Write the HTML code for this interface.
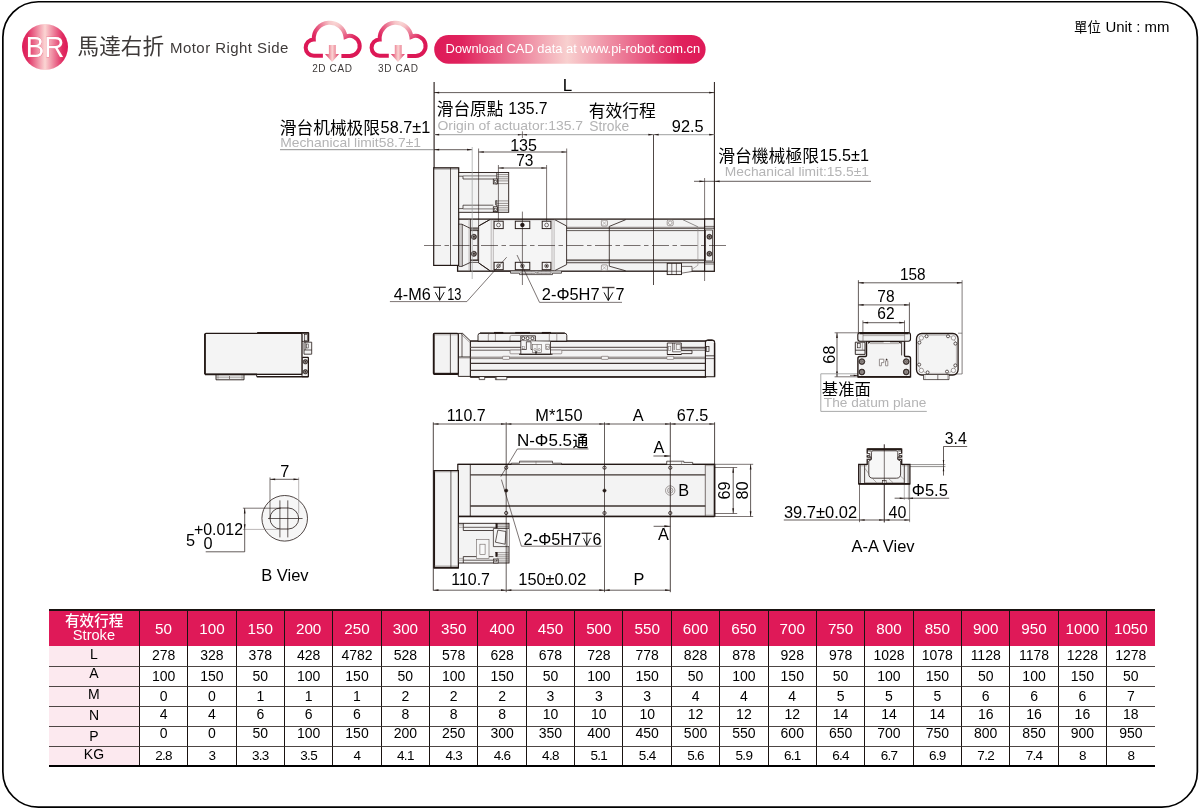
<!DOCTYPE html>
<html lang="zh"><head><meta charset="utf-8"><title>BR Motor Right Side</title>
<style>
html,body{margin:0;padding:0;background:#fff;}
body{width:1200px;height:809px;position:relative;overflow:hidden;font-family:"Liberation Sans",sans-serif;}
.frame{position:absolute;left:2px;top:1px;width:1194.6px;height:805px;border:1.3px solid #000;border-radius:37px;box-sizing:content-box;}
svg.art{position:absolute;left:0;top:0;width:1200px;height:809px;will-change:transform;}
svg.art text{font-family:"Liberation Sans",sans-serif;}
svg.art text.cjk{font-family:"Liberation Sans","Noto Sans CJK TC","Noto Sans CJK SC",sans-serif;}
svg.art text.cjksc{font-family:"Liberation Sans","Noto Sans CJK SC","Noto Sans CJK TC",sans-serif;}
table.spec{will-change:transform;position:absolute;left:48.6px;top:609px;width:1105.6px;border-collapse:separate;border-spacing:0;table-layout:fixed;font-family:"Liberation Sans",sans-serif;border-top:2px solid #1a1311;border-bottom:2px solid #000;}
table.spec th{background:#df1958;color:#fff;font-weight:normal;font-size:15.2px;height:35px;padding:1px 0 0 0;border-left:1px solid #1a1311;text-align:center;vertical-align:top;line-height:34px;width:48.36px;box-sizing:border-box;}
table.spec th.first{width:89.9px;border-left:none;padding:0;line-height:13px;font-size:14.6px;}
table.spec th.first svg{display:block;margin:2px auto 0 auto;}
table.spec th.first span{display:block;margin-top:1.2px;}
table.spec td{height:20px;padding:0;font-size:14px;color:#000;text-align:center;border-left:1px solid #1a1311;border-top:1px solid #4d4644;box-sizing:border-box;line-height:19px;vertical-align:top;}
table.spec td.first{background:#fce9ef;border-left:none;font-size:14px;}
table.spec tbody tr:nth-child(1) td{border-top:none;line-height:19.5px;}
table.spec tbody tr:nth-child(1) td.first{line-height:17.7px;}
table.spec tbody tr:nth-child(2) td{line-height:19.1px;}
table.spec tbody tr:nth-child(2) td.first{line-height:12.9px;}
table.spec tbody tr:nth-child(3) td{line-height:19.1px;}
table.spec tbody tr:nth-child(3) td.first{line-height:15.9px;}
table.spec tbody tr:nth-child(4) td{line-height:15.3px;}
table.spec tbody tr:nth-child(4) td.first{line-height:16.9px;}
table.spec tbody tr:nth-child(5) td{line-height:13.9px;}
table.spec tbody tr:nth-child(5) td.first{line-height:18.7px;}
table.spec tbody tr:nth-child(6) td{height:18px;line-height:17.7px;font-size:13.5px;letter-spacing:-0.7px;}
table.spec tbody tr:nth-child(6) td.first{line-height:15.7px;font-size:14px;letter-spacing:0;}
</style></head>
<body>
<svg class="art" viewBox="0 0 1200 809" width="1200" height="809">
<defs>
<linearGradient id="gBR" x1="0" x2="1" y1="0" y2="0"><stop offset="0" stop-color="#de1a58"/><stop offset="0.12" stop-color="#e02c62"/><stop offset="0.5" stop-color="#fbd5d3"/><stop offset="0.88" stop-color="#e02c62"/><stop offset="1" stop-color="#de1a58"/></linearGradient>
<linearGradient id="gPill" x1="0" x2="1" y1="0" y2="0"><stop offset="0" stop-color="#de1a58"/><stop offset="0.1" stop-color="#e0225d"/><stop offset="0.49" stop-color="#f8d0cf"/><stop offset="0.9" stop-color="#e0225d"/><stop offset="1" stop-color="#de1a58"/></linearGradient>
<radialGradient id="gCloud" gradientUnits="userSpaceOnUse" cx="335" cy="21" r="31"><stop offset="0" stop-color="#fadad8"/><stop offset="0.2" stop-color="#f6c4c7"/><stop offset="0.5" stop-color="#ea7391"/><stop offset="0.78" stop-color="#e02c64"/><stop offset="1" stop-color="#dc1856"/></radialGradient>
<linearGradient id="gArrow" gradientUnits="userSpaceOnUse" x1="325" y1="0" x2="339" y2="0"><stop offset="0" stop-color="#dc2a5f"/><stop offset="0.3" stop-color="#ee8f9f"/><stop offset="0.52" stop-color="#fad4d3"/><stop offset="0.75" stop-color="#ee8f9f"/><stop offset="1" stop-color="#dc2a5f"/></linearGradient>
</defs>
<rect x="2.85" y="1.75" width="1194.5" height="805.4" rx="35.5" ry="35.5" fill="none" stroke="#000" stroke-width="1.7"/>
<g id="header">
<circle cx="45" cy="47" r="23" fill="url(#gBR)"/>
<text x="45" y="57.1" font-size="29.8" fill="#fff" text-anchor="middle" textLength="38.6" lengthAdjust="spacingAndGlyphs" stroke="#e8556f" stroke-width="0.5" paint-order="stroke" style="paint-order:stroke">BR</text>
<text class="cjk" x="77.6" y="54" font-size="21.6" fill="#3e3a39" textLength="86.4" lengthAdjust="spacingAndGlyphs">馬達右折</text>
<text x="170" y="52.6" font-size="15" fill="#3e3a39" letter-spacing="0.45">Motor Right Side</text>
<g transform="translate(0,0)">
<path d="M322.9 55.8 H313.96 A8.2 8.2 0 0 1 313.78 39.4 A15.9 15.9 0 0 1 345.46 36.84 A10 10 0 1 1 349.7 55.9 H341.4" fill="none" stroke="url(#gCloud)" stroke-width="4" stroke-linecap="butt" stroke-linejoin="miter"/>
<path d="M328.9 45 H335.8 V54 H339 L332.1 61.9 L325 54 H328.9 Z" fill="url(#gArrow)"/>
<text x="332.4" y="71.8" font-size="10" fill="#3e3a39" text-anchor="middle" letter-spacing="0.62">2D CAD</text>
</g>
<g transform="translate(65.9,0)">
<path d="M322.9 55.8 H313.96 A8.2 8.2 0 0 1 313.78 39.4 A15.9 15.9 0 0 1 345.46 36.84 A10 10 0 1 1 349.7 55.9 H341.4" fill="none" stroke="url(#gCloud)" stroke-width="4" stroke-linecap="butt" stroke-linejoin="miter"/>
<path d="M328.9 45 H335.8 V54 H339 L332.1 61.9 L325 54 H328.9 Z" fill="url(#gArrow)"/>
<text x="332.4" y="71.8" font-size="10" fill="#3e3a39" text-anchor="middle" letter-spacing="0.62">3D CAD</text>
</g>
<rect x="434.2" y="35" width="271.4" height="28.8" rx="14.4" fill="url(#gPill)"/>
<text x="445.6" y="53.4" font-size="12" fill="#fff" textLength="254.5" lengthAdjust="spacingAndGlyphs">Download CAD data at www.pi-robot.com.cn</text>
<text class="cjk" x="1074" y="32.3" font-size="13.3" fill="#000" textLength="26.8" lengthAdjust="spacingAndGlyphs">單位</text>
<text x="1105.4" y="31.8" font-size="14.3" fill="#000" textLength="64" lengthAdjust="spacingAndGlyphs">Unit : mm</text>
</g>
<g id="top_view">
<rect x="457.6" y="219.1" width="256.7" height="52.1" fill="#f3f3f3" stroke="#231815" stroke-width="1.3"/>
<rect x="433.7" y="167.8" width="25" height="97.6" fill="#f3f3f3" stroke="#231815" stroke-width="1.2"/>
<line x1="434" y1="169" x2="458.7" y2="169" stroke="#231815" stroke-width="0.5" />
<line x1="450.5" y1="167.8" x2="450.5" y2="265.4" stroke="#231815" stroke-width="0.7" />
<rect x="458.7" y="172.5" width="50" height="39.8" fill="#f3f3f3" stroke="#231815" stroke-width="0.9"/>
<path d="M458.7 176.2 H463 V179 H493.3" fill="none" stroke="#231815" stroke-width="0.7" />
<path d="M458.7 208.6 H463 V205.2 H493.3" fill="none" stroke="#231815" stroke-width="0.7" />
<line x1="463" y1="175.9" x2="496.8" y2="175.9" stroke="#4a4443" stroke-width="0.7" />
<line x1="463" y1="208.9" x2="496.8" y2="208.9" stroke="#4a4443" stroke-width="0.7" />
<line x1="496.8" y1="172.5" x2="496.8" y2="184" stroke="#231815" stroke-width="0.8" />
<line x1="496.8" y1="200.6" x2="496.8" y2="212.3" stroke="#231815" stroke-width="0.8" />
<line x1="496.8" y1="174.6" x2="508.7" y2="174.6" stroke="#5a504d" stroke-width="0.6" />
<line x1="496.8" y1="176.7" x2="508.7" y2="176.7" stroke="#5a504d" stroke-width="0.6" />
<line x1="496.8" y1="178.8" x2="508.7" y2="178.8" stroke="#5a504d" stroke-width="0.6" />
<line x1="496.8" y1="180.9" x2="508.7" y2="180.9" stroke="#5a504d" stroke-width="0.6" />
<line x1="496.8" y1="183.6" x2="508.7" y2="183.6" stroke="#5a504d" stroke-width="0.6" />
<line x1="496.8" y1="200.9" x2="508.7" y2="200.9" stroke="#5a504d" stroke-width="0.6" />
<line x1="496.8" y1="203.4" x2="508.7" y2="203.4" stroke="#5a504d" stroke-width="0.6" />
<line x1="496.8" y1="205.6" x2="508.7" y2="205.6" stroke="#5a504d" stroke-width="0.6" />
<line x1="496.8" y1="207.8" x2="508.7" y2="207.8" stroke="#5a504d" stroke-width="0.6" />
<line x1="496.8" y1="210" x2="508.7" y2="210" stroke="#5a504d" stroke-width="0.6" />
<rect x="493.3" y="179" width="4.3" height="4.9" fill="#f3f3f3" stroke="#231815" stroke-width="0.8"/>
<rect x="494.6" y="180.5" width="1.8" height="2" fill="none" stroke="#231815" stroke-width="0.5"/>
<rect x="493.3" y="206.8" width="4.3" height="4.8" fill="#f3f3f3" stroke="#231815" stroke-width="0.8"/>
<rect x="494.6" y="208.2" width="1.8" height="2" fill="none" stroke="#231815" stroke-width="0.5"/>
<path d="M496.8 184 L495.6 184 M496.8 200.6 H495.6 V205.2" fill="none" stroke="#231815" stroke-width="0.7" />
<line x1="470.4" y1="219.1" x2="470.4" y2="271.2" stroke="#231815" stroke-width="0.8" />
<line x1="469" y1="219.1" x2="469" y2="271.2" stroke="#8c8584" stroke-width="0.5" />
<path d="M458.7 224.2 H462.2 V266.4 H458.7 M462.2 224.4 L470.4 228.4 M462.2 266.2 L470.4 262.4" fill="none" stroke="#231815" stroke-width="0.8" />
<line x1="460.2" y1="224.2" x2="460.2" y2="266.4" stroke="#8c8584" stroke-width="0.5" />
<rect x="470.4" y="229.9" width="7.5" height="30.4" fill="#f3f3f3" stroke="#231815" stroke-width="0.8"/>
<circle cx="473.9" cy="236.8" r="2.6" fill="#3a302c" stroke="#231815" stroke-width="0.6"/><circle cx="473.9" cy="236.8" r="1.43" fill="none" stroke="#cfcaca" stroke-width="0.5"/>
<circle cx="473.9" cy="253.8" r="2.6" fill="#3a302c" stroke="#231815" stroke-width="0.6"/><circle cx="473.9" cy="253.8" r="1.43" fill="none" stroke="#cfcaca" stroke-width="0.5"/>
<line x1="470.4" y1="228.2" x2="704.6" y2="228.2" stroke="#3e3431" stroke-width="1.2" />
<line x1="470.4" y1="230.6" x2="704.6" y2="230.6" stroke="#231815" stroke-width="0.7" />
<line x1="470.4" y1="260.1" x2="704.6" y2="260.1" stroke="#3e3431" stroke-width="1.2" />
<line x1="470.4" y1="262.4" x2="704.6" y2="262.4" stroke="#231815" stroke-width="0.7" />
<line x1="566.5" y1="227" x2="704.6" y2="227" stroke="#9a9392" stroke-width="0.5" />
<line x1="566.5" y1="263.4" x2="704.6" y2="263.4" stroke="#9a9392" stroke-width="0.5" />
<path d="M489.9 219.6 L478.6 226 V262.9 L489.9 270.7 H554.6 L566.6 264.6 V226 L554.6 219.6 Z" fill="#f5f5f5" stroke="#231815" stroke-width="0.85" />
<path d="M478.6 226 L489.9 219.6 M478.6 262.9 L489.9 270.7" fill="none" stroke="#231815" stroke-width="0.9" />
<line x1="491.2" y1="219.8" x2="491.2" y2="270.6" stroke="#8c8584" stroke-width="0.55" />
<line x1="493.3" y1="219.8" x2="493.3" y2="270.6" stroke="#8c8584" stroke-width="0.55" />
<line x1="552" y1="219.8" x2="552" y2="270.6" stroke="#8c8584" stroke-width="0.55" />
<line x1="554.1" y1="219.8" x2="554.1" y2="270.6" stroke="#8c8584" stroke-width="0.55" />
<rect x="494.1" y="221.2" width="9.1" height="7.4" fill="#f7f7f7" stroke="#231815" stroke-width="0.95"/>
<rect x="494.1" y="262.3" width="9.1" height="7.4" fill="#f7f7f7" stroke="#231815" stroke-width="0.95"/>
<rect x="515.3" y="221.2" width="14.5" height="7.4" fill="#f7f7f7" stroke="#231815" stroke-width="0.95"/>
<rect x="515.3" y="262.3" width="14.5" height="7.4" fill="#f7f7f7" stroke="#231815" stroke-width="0.95"/>
<rect x="542.2" y="221.2" width="8.7" height="7.4" fill="#f7f7f7" stroke="#231815" stroke-width="0.95"/>
<rect x="542.2" y="262.3" width="8.7" height="7.4" fill="#f7f7f7" stroke="#231815" stroke-width="0.95"/>
<circle cx="498.5" cy="225" r="1.9" fill="none" stroke="#231815" stroke-width="0.6"/>
<circle cx="546.6" cy="225" r="1.9" fill="none" stroke="#231815" stroke-width="0.6"/>
<circle cx="522.4" cy="225" r="1.9" fill="#231815" stroke="#231815" stroke-width="0.6"/>
<circle cx="498.5" cy="265.9" r="1.9" fill="none" stroke="#231815" stroke-width="0.6"/>
<circle cx="498.5" cy="265.9" r="0.9" fill="none" stroke="#231815" stroke-width="0.5"/>
<circle cx="522.4" cy="265.9" r="1.9" fill="none" stroke="#231815" stroke-width="0.6"/>
<circle cx="522.4" cy="265.9" r="0.9" fill="#231815" stroke="#231815" stroke-width="0.4"/>
<circle cx="546.6" cy="265.9" r="1.9" fill="none" stroke="#231815" stroke-width="0.6"/>
<circle cx="546.6" cy="265.9" r="0.9" fill="#231815" stroke="#231815" stroke-width="0.4"/>
<path d="M510.5 271.2 V273.2 H519.5 V274.6 H552.5 V273.2 H561.5 V271.2" fill="#dcdcdc" stroke="#231815" stroke-width="0.7" />
<line x1="522.5" y1="271.8" x2="522.5" y2="274" stroke="#231815" stroke-width="0.5" />
<line x1="527" y1="271.8" x2="527" y2="274" stroke="#231815" stroke-width="0.5" />
<line x1="531.5" y1="271.8" x2="531.5" y2="274" stroke="#231815" stroke-width="0.5" />
<line x1="537" y1="271.8" x2="537" y2="274" stroke="#231815" stroke-width="0.5" />
<line x1="541.5" y1="271.8" x2="541.5" y2="274" stroke="#231815" stroke-width="0.5" />
<line x1="546" y1="271.8" x2="546" y2="274" stroke="#231815" stroke-width="0.5" />
<line x1="550" y1="271.8" x2="550" y2="274" stroke="#231815" stroke-width="0.5" />
<rect x="521" y="272" width="14.5" height="1.8" fill="#fff" stroke="#231815" stroke-width="0.4"/>
<rect x="538" y="272" width="13" height="1.8" fill="#fff" stroke="#231815" stroke-width="0.4"/>
<path d="M625.7 219.7 L609.3 226.4 V266.2 L625.7 270.8" fill="none" stroke="#231815" stroke-width="0.8" />
<path d="M683 219.8 L697.9 226.8" fill="none" stroke="#4a4443" stroke-width="0.6" />
<path d="M697.9 226.8 V265.2 L690 270.8" fill="none" stroke="#8c8584" stroke-width="0.6" />
<rect x="601.4" y="220.2" width="6" height="5.8" rx="1" fill="#f7f7f7" stroke="#6b625f" stroke-width="0.6"/>
<path d="M602.1999999999999 221.0 L606.6 225.2 M606.6 221.0 L602.1999999999999 225.2" fill="none" stroke="#8c8584" stroke-width="0.5" />
<rect x="601.4" y="264.9" width="6" height="5.8" rx="1" fill="#f7f7f7" stroke="#6b625f" stroke-width="0.6"/>
<path d="M602.1999999999999 265.7 L606.6 269.90000000000003 M606.6 265.7 L602.1999999999999 269.90000000000003" fill="none" stroke="#8c8584" stroke-width="0.5" />
<rect x="667.2" y="219.9" width="6" height="5.8" rx="1.5" fill="#f7f7f7" stroke="#6b625f" stroke-width="0.6"/>
<circle cx="670.2" cy="222.8" r="1.8" fill="none" stroke="#6b625f" stroke-width="0.5"/>
<rect x="704.6" y="219.1" width="9.7" height="52.1" fill="#f3f3f3" stroke="#231815" stroke-width="1.1"/>
<line x1="704.6" y1="226.4" x2="714.3" y2="226.4" stroke="#231815" stroke-width="0.6" />
<line x1="704.6" y1="228.2" x2="714.3" y2="228.2" stroke="#231815" stroke-width="0.8" />
<line x1="704.6" y1="262.2" x2="714.3" y2="262.2" stroke="#231815" stroke-width="0.8" />
<line x1="704.6" y1="264" x2="714.3" y2="264" stroke="#231815" stroke-width="0.6" />
<rect x="705.6" y="230" width="7" height="31" fill="#f3f3f3" stroke="#231815" stroke-width="0.7"/>
<circle cx="709.4" cy="236.8" r="2.5" fill="#3a302c" stroke="#231815" stroke-width="0.6"/><circle cx="709.4" cy="236.8" r="1.38" fill="none" stroke="#cfcaca" stroke-width="0.5"/>
<circle cx="709.4" cy="253.8" r="2.5" fill="#3a302c" stroke="#231815" stroke-width="0.6"/><circle cx="709.4" cy="253.8" r="1.38" fill="none" stroke="#cfcaca" stroke-width="0.5"/>
<path d="M681.5 266.4 H692 V271.5 L681.5 273.2" fill="#f7f7f7" stroke="#231815" stroke-width="0.6" />
<rect x="667.2" y="263.3" width="14.3" height="11.3" fill="#f4f4f4" stroke="#231815" stroke-width="0.9"/>
<line x1="671.8" y1="263.3" x2="671.8" y2="274.6" stroke="#231815" stroke-width="0.6" />
<line x1="676.4" y1="263.3" x2="676.4" y2="274.6" stroke="#231815" stroke-width="0.6" />
<line x1="667.2" y1="271.3" x2="681.5" y2="271.3" stroke="#231815" stroke-width="0.6" />
<line x1="424" y1="245.5" x2="729" y2="245.5" stroke="#231815" stroke-width="0.6" stroke-dasharray="17 3.5 4.5 3.5"/>
<line x1="522.4" y1="211.6" x2="522.4" y2="285" stroke="#231815" stroke-width="0.6" />
<line x1="434.1" y1="82" x2="434.1" y2="168" stroke="#231815" stroke-width="1.1" />
<line x1="714.4" y1="82" x2="714.4" y2="219" stroke="#231815" stroke-width="1.0" />
<line x1="434" y1="92.6" x2="714.4" y2="92.6" stroke="#231815" stroke-width="0.7" /><path d="M434 92.6 L439.2 91.75 L439.2 93.45Z" fill="#231815"/><path d="M714.4 92.6 L709.2 91.75 L709.2 93.45Z" fill="#231815"/>
<line x1="434" y1="134.7" x2="714.4" y2="134.7" stroke="#9fa0a0" stroke-width="1.0" />
<path d="M434 134.7 L439.2 133.85 L439.2 135.55Z" fill="#231815"/>
<path d="M522.4 134.7 L517.9 133.95 L517.9 135.45Z" fill="#231815"/>
<path d="M522.4 134.7 L526.9 133.95 L526.9 135.45Z" fill="#231815"/>
<line x1="522.4" y1="131.3" x2="522.4" y2="138" stroke="#231815" stroke-width="0.6" />
<path d="M653.5 134.7 L648.3 133.85 L648.3 135.55Z" fill="#231815"/>
<path d="M653.5 134.7 L658.7 133.85 L658.7 135.55Z" fill="#231815"/>
<path d="M714.4 134.7 L709.2 133.85 L709.2 135.55Z" fill="#231815"/>
<line x1="280" y1="149.7" x2="434" y2="149.7" stroke="#727171" stroke-width="0.8" />
<line x1="434" y1="149.7" x2="472.2" y2="149.7" stroke="#231815" stroke-width="0.7" />
<path d="M434 149.7 L439.2 148.85 L439.2 150.55Z" fill="#231815"/>
<path d="M472.2 149.7 L467 148.85 L467 150.55Z" fill="#231815"/>
<line x1="472.2" y1="147" x2="472.2" y2="279" stroke="#9fa0a0" stroke-width="0.7" />
<line x1="478.6" y1="148.5" x2="478.6" y2="226" stroke="#231815" stroke-width="0.6" />
<line x1="566.7" y1="148.5" x2="566.7" y2="226" stroke="#231815" stroke-width="0.6" />
<line x1="478.6" y1="152" x2="566.7" y2="152" stroke="#231815" stroke-width="0.7" /><path d="M478.6 152 L483.8 151.15 L483.8 152.85Z" fill="#231815"/><path d="M566.7 152 L561.5 151.15 L561.5 152.85Z" fill="#231815"/>
<line x1="498.4" y1="165" x2="498.4" y2="221" stroke="#231815" stroke-width="0.6" />
<line x1="546.6" y1="165" x2="546.6" y2="221" stroke="#231815" stroke-width="0.6" />
<line x1="498.4" y1="168" x2="546.6" y2="168" stroke="#231815" stroke-width="0.7" /><path d="M498.4 168 L503.6 167.15 L503.6 168.85Z" fill="#231815"/><path d="M546.6 168 L541.4 167.15 L541.4 168.85Z" fill="#231815"/>
<line x1="653.5" y1="134.7" x2="653.5" y2="285" stroke="#231815" stroke-width="0.8" />
<line x1="704.6" y1="178" x2="704.6" y2="281" stroke="#231815" stroke-width="0.6" />
<line x1="694" y1="181.3" x2="871" y2="181.3" stroke="#231815" stroke-width="0.7" />
<path d="M704.6 181.3 L699.4 180.45 L699.4 182.15Z" fill="#231815"/>
<path d="M714.4 181.3 L719.6 180.45 L719.6 182.15Z" fill="#231815"/>
<text x="567.6" y="90.6" font-size="17" fill="#000" text-anchor="middle" >L</text>
<text class="cjk" x="436.8" y="115" font-size="16.6" fill="#000" textLength="66.6" lengthAdjust="spacingAndGlyphs">滑台原點</text>
<text x="508.2" y="114.2" font-size="16.3" fill="#000" textLength="39.4" lengthAdjust="spacingAndGlyphs">135.7</text>
<text x="437.5" y="129.6" font-size="13.6" fill="#b4b4b5" textLength="145.5" lengthAdjust="spacingAndGlyphs">Origin of actuator:135.7</text>
<text class="cjk" x="588.8" y="117.4" font-size="16.7" fill="#000" textLength="67" lengthAdjust="spacingAndGlyphs">有效行程</text>
<text x="589.2" y="131.2" font-size="13.8" fill="#b4b4b5" textLength="40" lengthAdjust="spacingAndGlyphs">Stroke</text>
<text x="671.8" y="132" font-size="16.3" fill="#000" textLength="31.8" lengthAdjust="spacingAndGlyphs">92.5</text>
<text class="cjksc" x="279.8" y="133.6" font-size="16.6" fill="#000" textLength="100.2" lengthAdjust="spacingAndGlyphs">滑台机械极限</text>
<text x="380.6" y="133" font-size="16.3" fill="#000" textLength="49.6" lengthAdjust="spacingAndGlyphs">58.7±1</text>
<text x="280.2" y="147" font-size="13.6" fill="#b4b4b5" textLength="140.8" lengthAdjust="spacingAndGlyphs">Mechanical limit58.7±1</text>
<text x="510.2" y="151" font-size="16.3" fill="#000" textLength="26.8" lengthAdjust="spacingAndGlyphs">135</text>
<text x="516.2" y="166.4" font-size="16.3" fill="#000" textLength="17.2" lengthAdjust="spacingAndGlyphs">73</text>
<text class="cjk" x="718.2" y="161.6" font-size="16.7" fill="#000" textLength="100.8" lengthAdjust="spacingAndGlyphs">滑台機械極限</text>
<text x="819.6" y="160.8" font-size="16.3" fill="#000" textLength="49.4" lengthAdjust="spacingAndGlyphs">15.5±1</text>
<text x="724.8" y="176.4" font-size="13.6" fill="#b4b4b5" textLength="144.2" lengthAdjust="spacingAndGlyphs">Mechanical limit:15.5±1</text>
<text x="393.8" y="299.7" font-size="16.2" fill="#000" textLength="37" lengthAdjust="spacingAndGlyphs">4-M6</text>
<path d="M433.4 287.3 H445.8" fill="none" stroke="#4a4443" stroke-width="1.4"/><path d="M439.6 287.3 V300.1 M435.3 292.2 L439.6 300.3 L444.2 292.2" fill="none" stroke="#000" stroke-width="0.95" stroke-linejoin="miter"/>
<text x="447.2" y="299.7" font-size="16.2" fill="#000" textLength="14.2" lengthAdjust="spacingAndGlyphs">13</text>
<path d="M389.9 301.6 H466.8 L506.7 257.2" fill="none" stroke="#231815" stroke-width="0.6" />
<text x="541.8" y="299.9" font-size="16.2" fill="#000" textLength="57.8" lengthAdjust="spacingAndGlyphs">2-Φ5H7</text>
<path d="M602.1 287.5 H614.5" fill="none" stroke="#4a4443" stroke-width="1.4"/><path d="M608.3 287.5 V300.3 M604 292.4 L608.3 300.5 L612.9 292.4" fill="none" stroke="#000" stroke-width="0.95" stroke-linejoin="miter"/>
<text x="615.6" y="299.9" font-size="16.2" fill="#000" text-anchor="start" >7</text>
<path d="M622 302.35 H539.5 L517.0 255.0" fill="none" stroke="#231815" stroke-width="0.6" />
</g>
<g id="left_view">
<path d="M257.3 332.7 H308.7 V341.4 H302" fill="#f3f3f3" stroke="#231815" stroke-width="0.8" />
<line x1="257.3" y1="332.8" x2="308.7" y2="332.8" stroke="#231815" stroke-width="1.7" />
<rect x="304.6" y="334.4" width="3" height="6.4" fill="#e6e6e6" stroke="#231815" stroke-width="0.6"/>
<line x1="308.6" y1="332.7" x2="308.6" y2="341.4" stroke="#231815" stroke-width="1.0" />
<path d="M304 342.2 H311.7 V354.2 H304 Z" fill="#f2f2f2" stroke="#231815" stroke-width="0.8" />
<line x1="304" y1="350" x2="311.7" y2="350" stroke="#231815" stroke-width="0.7" />
<rect x="306.4" y="344" width="1.8" height="4" fill="none" stroke="#231815" stroke-width="0.5"/>
<line x1="305.6" y1="342.2" x2="305.6" y2="350" stroke="#231815" stroke-width="0.5" />
<path d="M302 357.4 H308.4 V376.8 H302 Z" fill="#f3f3f3" stroke="#231815" stroke-width="0.8" />
<line x1="303" y1="357.4" x2="308.4" y2="357.4" stroke="#231815" stroke-width="1.2" />
<line x1="308.4" y1="357.4" x2="308.4" y2="376.8" stroke="#231815" stroke-width="1.2" />
<circle cx="305.4" cy="361.8" r="2.2" fill="#3a302c" stroke="#231815" stroke-width="0.6"/><circle cx="305.4" cy="361.8" r="1.21" fill="none" stroke="#cfcaca" stroke-width="0.5"/>
<circle cx="305.4" cy="371.8" r="2.2" fill="#3a302c" stroke="#231815" stroke-width="0.6"/><circle cx="305.4" cy="371.8" r="1.21" fill="none" stroke="#cfcaca" stroke-width="0.5"/>
<line x1="256.8" y1="376.8" x2="308.4" y2="376.8" stroke="#231815" stroke-width="1.6" />
<path d="M216 374.4 V379.8 H244 V374.4" fill="#ececec" stroke="#231815" stroke-width="0.9" />
<line x1="216" y1="377.2" x2="244" y2="377.2" stroke="#6b625f" stroke-width="0.5" />
<line x1="229.5" y1="376" x2="229.5" y2="379.6" stroke="#6b625f" stroke-width="0.8" />
<line x1="218" y1="375" x2="218" y2="379" stroke="#6b625f" stroke-width="0.5" />
<line x1="242" y1="375" x2="242" y2="379" stroke="#6b625f" stroke-width="0.5" />
<rect x="204.8" y="333.4" width="97.2" height="41" rx="1.2" fill="#f4f4f4" stroke="#231815" stroke-width="1.3"/>
<line x1="205" y1="334" x2="205" y2="374" stroke="#231815" stroke-width="1.6" />
<line x1="205" y1="374.3" x2="257" y2="374.3" stroke="#231815" stroke-width="1.7" />
<line x1="257" y1="374.4" x2="302" y2="374.4" stroke="#231815" stroke-width="0.9" />
<path d="M256.8 376.8 Q256 374.6 257.6 374.4" fill="none" stroke="#231815" stroke-width="0.9" />
</g>
<g id="side_view">
<path d="M458.3 333.4 H462.6 L470.4 340.9 V376.4 H458.3 Z" fill="#f3f3f3" stroke="#231815" stroke-width="0.9" />
<path d="M461.3 334.2 L469.6 342.2" fill="none" stroke="#6b625f" stroke-width="0.6" />
<line x1="462" y1="333.4" x2="462" y2="357" stroke="#231815" stroke-width="0.7" />
<line x1="458.3" y1="357" x2="470.4" y2="357" stroke="#231815" stroke-width="0.9" />
<line x1="458.3" y1="358.2" x2="470.4" y2="358.2" stroke="#8c8584" stroke-width="0.5" />
<rect x="433.4" y="333.4" width="24.9" height="40.9" rx="1" fill="#f3f3f3" stroke="#231815" stroke-width="1.2"/>
<line x1="434" y1="373.6" x2="458.3" y2="373.6" stroke="#231815" stroke-width="1.6" />
<line x1="434" y1="333.8" x2="434" y2="374" stroke="#231815" stroke-width="1.4" />
<line x1="450.4" y1="333.4" x2="450.4" y2="374.3" stroke="#231815" stroke-width="0.7" />
<line x1="434" y1="334.8" x2="458.3" y2="334.8" stroke="#6b625f" stroke-width="0.5" />
<rect x="470.4" y="340.9" width="235.6" height="36" fill="#f3f3f3" stroke="#231815" stroke-width="1.0"/>
<path d="M478 340.9 V335.4 Q478 333.2 480.4 333.2 H564.6 Q566.8 333.2 566.8 335.4 V341.4 H478 Z" fill="#f3f3f3" stroke="#231815" stroke-width="0.9" />
<line x1="480" y1="333.2" x2="564.8" y2="333.2" stroke="#231815" stroke-width="1.3" />
<line x1="494" y1="332.8" x2="503.3" y2="332.8" stroke="#231815" stroke-width="1.7" />
<line x1="515.2" y1="332.8" x2="530" y2="332.8" stroke="#231815" stroke-width="1.7" />
<line x1="541.8" y1="332.8" x2="551" y2="332.8" stroke="#231815" stroke-width="1.7" />
<path d="M488.3 341 V335 Q488.3 334 489.5 334 M495.4 334 V341" fill="none" stroke="#6b625f" stroke-width="0.6" />
<path d="M510 341 V337 Q510 335.4 511.6 335.4 H520.8" fill="none" stroke="#6b625f" stroke-width="0.6" />
<line x1="549.3" y1="333.4" x2="549.3" y2="341" stroke="#6b625f" stroke-width="0.6" />
<line x1="556.8" y1="333.4" x2="556.8" y2="341" stroke="#6b625f" stroke-width="0.6" />
<line x1="470.4" y1="341.2" x2="706" y2="341.2" stroke="#231815" stroke-width="1.0" />
<line x1="470.4" y1="347.4" x2="706" y2="347.4" stroke="#6e6462" stroke-width="1.3" />
<line x1="470.4" y1="350.2" x2="706" y2="350.2" stroke="#3e3431" stroke-width="0.8" />
<line x1="470.4" y1="357.2" x2="714" y2="357.2" stroke="#6e6462" stroke-width="0.9" />
<line x1="470.4" y1="358.6" x2="714" y2="358.6" stroke="#3e3431" stroke-width="0.6" />
<line x1="470.4" y1="363.4" x2="706.6" y2="363.4" stroke="#3e3431" stroke-width="1.3" />
<line x1="470.4" y1="370.4" x2="706.6" y2="370.4" stroke="#3e3431" stroke-width="1.3" />
<line x1="470.4" y1="376.9" x2="706" y2="376.9" stroke="#231815" stroke-width="1.5" />
<rect x="510" y="350.1" width="51.8" height="3.7" rx="0.8" fill="#f3f3f3" stroke="#6b625f" stroke-width="0.6"/>
<rect x="502.6" y="356.3" width="6.9" height="3.1" rx="0.6" fill="#f3f3f3" stroke="#6b625f" stroke-width="0.6"/>
<rect x="601.4" y="356.3" width="6.9" height="3.1" rx="0.6" fill="#f3f3f3" stroke="#6b625f" stroke-width="0.6"/>
<rect x="666.8" y="356.3" width="6.9" height="3.1" rx="0.6" fill="#f3f3f3" stroke="#6b625f" stroke-width="0.6"/>
<path d="M520.8 335.8 H535.4 V341 H520.8 Z" fill="#e8e8e8" stroke="#231815" stroke-width="0.8" />
<circle cx="523.2" cy="338.2" r="1.5" fill="#fff" stroke="#3e3431" stroke-width="0.9"/>
<circle cx="527.6" cy="338.2" r="1.5" fill="#fff" stroke="#3e3431" stroke-width="0.9"/>
<circle cx="532.4" cy="338.2" r="1.5" fill="#fff" stroke="#3e3431" stroke-width="0.9"/>
<path d="M520.8 341 V354.3 H550.5 V341.6" fill="#f6f6f6" stroke="#231815" stroke-width="0.8" />
<path d="M526.4 349.5 V341.8 H531 V349.5 M521.5 349.5 H526.4 M531 349.5 H532.5" fill="none" stroke="#231815" stroke-width="0.7" />
<rect x="532.6" y="344.4" width="9" height="8" fill="#f4f4f4" stroke="#6b625f" stroke-width="0.6"/>
<circle cx="535" cy="349.6" r="1.1" fill="none" stroke="#6b625f" stroke-width="0.5"/>
<circle cx="539.2" cy="349.6" r="1.1" fill="none" stroke="#6b625f" stroke-width="0.5"/>
<line x1="537.1" y1="344.4" x2="537.1" y2="352.4" stroke="#6b625f" stroke-width="0.5" />
<rect x="545.8" y="344.2" width="3.8" height="5.4" fill="#f4f4f4" stroke="#6b625f" stroke-width="0.6"/>
<line x1="519" y1="354.3" x2="552.5" y2="354.3" stroke="#231815" stroke-width="1.1" />
<path d="M536 354.3 L535.2 351.6 L536.8 351.6Z" fill="#000" stroke="#231815" stroke-width="0.3" />
<rect x="522.2" y="346.6" width="2.2" height="2.2" fill="none" stroke="#6b625f" stroke-width="0.4"/>
<rect x="546.8" y="346.8" width="1.8" height="2" fill="none" stroke="#6b625f" stroke-width="0.4"/>
<path d="M667.3 343.0 H681.3 V350.6 H692 V353.6 H681.3 V354.5 H667.3 Z" fill="#f4f4f4" stroke="#231815" stroke-width="0.8" />
<path d="M672.6 343 V351.8 H681.3 M674.2 343 V350" fill="none" stroke="#231815" stroke-width="0.6" />
<rect x="676.2" y="344.4" width="4" height="5" fill="#f4f4f4" stroke="#6b625f" stroke-width="0.6"/>
<rect x="668.4" y="346.6" width="2.4" height="4" fill="none" stroke="#6b625f" stroke-width="0.5"/>
<line x1="681.3" y1="348.2" x2="706" y2="348.2" stroke="#231815" stroke-width="0.6" />
<line x1="667.3" y1="354.5" x2="681.3" y2="354.5" stroke="#231815" stroke-width="1.0" />
<rect x="706.2" y="346.4" width="2.8" height="5" fill="#e8e8e8" stroke="#231815" stroke-width="0.7"/>
<path d="M705.4 376.8 V342.6 Q705.4 340.1 707.9 340.1 H712 Q714.7 340.1 714.7 342.8 V376.8 Z" fill="#f3f3f3" stroke="#231815" stroke-width="1.1" />
<line x1="705.4" y1="355.8" x2="714.7" y2="355.8" stroke="#231815" stroke-width="0.8" />
<line x1="705.4" y1="358.6" x2="714.7" y2="358.6" stroke="#231815" stroke-width="0.6" />
<rect x="706.2" y="346.4" width="2.8" height="5" fill="#e8e8e8" stroke="#231815" stroke-width="0.7"/>
<line x1="714.5" y1="343" x2="714.5" y2="376.5" stroke="#231815" stroke-width="1.3" />
<line x1="707.5" y1="340.3" x2="712.5" y2="340.3" stroke="#231815" stroke-width="1.4" />
<path d="M479.2 377 V379.6 H484.7 V377" fill="#f3f3f3" stroke="#231815" stroke-width="0.7" />
<path d="M495.4 377 V379.7 H506.8 V377" fill="#f3f3f3" stroke="#231815" stroke-width="0.7" />
<line x1="496.6" y1="377" x2="496.6" y2="379.6" stroke="#231815" stroke-width="0.5" />
</g>
<g id="bottom_view">
<rect x="457.8" y="464.4" width="256.8" height="52" fill="#f3f3f3" stroke="#231815" stroke-width="1.2"/>
<line x1="470.3" y1="464.4" x2="470.3" y2="516.4" stroke="#231815" stroke-width="0.8" />
<line x1="705.3" y1="464.4" x2="705.3" y2="516.4" stroke="#6b625f" stroke-width="0.7" />
<rect x="705.3" y="464.4" width="9.3" height="52" fill="#ececec" stroke="#6b625f" stroke-width="0.7"/>
<line x1="714.5" y1="464.4" x2="714.5" y2="516.4" stroke="#231815" stroke-width="1.6" />
<line x1="705.3" y1="465.6" x2="714.6" y2="465.6" stroke="#6b625f" stroke-width="0.5" />
<line x1="705.3" y1="515.2" x2="714.6" y2="515.2" stroke="#6b625f" stroke-width="0.5" />
<line x1="470.3" y1="474.8" x2="705.3" y2="474.8" stroke="#3e3431" stroke-width="1.3" />
<line x1="470.3" y1="506" x2="705.3" y2="506" stroke="#3e3431" stroke-width="1.3" />
<line x1="457.8" y1="464.4" x2="714.6" y2="464.4" stroke="#231815" stroke-width="1.3" />
<line x1="457.8" y1="516.4" x2="714.6" y2="516.4" stroke="#231815" stroke-width="1.5" />
<path d="M511.3 464.2 V463.2 H519.5 V461.2 H552.5 V463.2 H561.5 V464.2" fill="#f4f4f4" stroke="#231815" stroke-width="0.7" />
<line x1="536" y1="461.2" x2="536" y2="464" stroke="#6b625f" stroke-width="0.5" />
<line x1="520" y1="462.4" x2="552" y2="462.4" stroke="#6b625f" stroke-width="0.4" />
<path d="M666.7 464.2 V461.2 H683.8 V462.4 H692.7 V464.2" fill="#f4f4f4" stroke="#231815" stroke-width="0.7" />
<line x1="681.6" y1="461.2" x2="681.6" y2="464" stroke="#6b625f" stroke-width="0.5" />
<rect x="433.9" y="470.6" width="24.5" height="97.4" fill="#f3f3f3" stroke="#231815" stroke-width="1.2"/>
<line x1="434.3" y1="470.6" x2="434.3" y2="568" stroke="#231815" stroke-width="1.5" />
<line x1="434" y1="567.6" x2="458.4" y2="567.6" stroke="#231815" stroke-width="1.6" />
<line x1="434" y1="471.8" x2="458.4" y2="471.8" stroke="#6b625f" stroke-width="0.5" />
<line x1="434" y1="566" x2="458.4" y2="566" stroke="#6b625f" stroke-width="0.5" />
<line x1="450.9" y1="470.6" x2="450.9" y2="568" stroke="#231815" stroke-width="0.7" />
<rect x="458.4" y="523.3" width="50.6" height="39.7" fill="#f3f3f3" stroke="#231815" stroke-width="0.9"/>
<path d="M463.3 523.3 V530.5 H493.4" fill="none" stroke="#231815" stroke-width="0.8" />
<line x1="463.3" y1="527.3" x2="496.6" y2="527.3" stroke="#3e3431" stroke-width="0.8" />
<line x1="458.4" y1="524.9" x2="463.3" y2="524.9" stroke="#6b625f" stroke-width="0.5" />
<line x1="458.4" y1="527.3" x2="463.3" y2="527.3" stroke="#6b625f" stroke-width="0.5" />
<path d="M463.3 563 V556.6 H493.4" fill="none" stroke="#231815" stroke-width="0.8" />
<line x1="463.3" y1="560.2" x2="493.4" y2="560.2" stroke="#3e3431" stroke-width="0.8" />
<line x1="458.4" y1="558.4" x2="463.3" y2="558.4" stroke="#6b625f" stroke-width="0.5" />
<line x1="458.4" y1="560.2" x2="463.3" y2="560.2" stroke="#6b625f" stroke-width="0.5" />
<line x1="496.6" y1="523.3" x2="496.6" y2="528.5" stroke="#231815" stroke-width="0.8" />
<line x1="496.6" y1="524.8" x2="509" y2="524.8" stroke="#5a504d" stroke-width="0.55" />
<line x1="496.6" y1="526.4" x2="509" y2="526.4" stroke="#5a504d" stroke-width="0.55" />
<line x1="496.6" y1="528" x2="509" y2="528" stroke="#5a504d" stroke-width="0.55" />
<line x1="496.6" y1="552.6" x2="509" y2="552.6" stroke="#5a504d" stroke-width="0.55" />
<line x1="496.6" y1="554.8" x2="509" y2="554.8" stroke="#5a504d" stroke-width="0.55" />
<line x1="496.6" y1="556.8" x2="509" y2="556.8" stroke="#5a504d" stroke-width="0.55" />
<line x1="496.6" y1="558.8" x2="509" y2="558.8" stroke="#5a504d" stroke-width="0.55" />
<line x1="496.6" y1="560.9" x2="509" y2="560.9" stroke="#5a504d" stroke-width="0.55" />
<path d="M496.6 552.6 V556.6 M495.6 552.6 H496.6" fill="none" stroke="#231815" stroke-width="0.8" />
<rect x="495.6" y="552.2" width="1.8" height="4.4" fill="#231815" stroke="#231815" stroke-width="0.3"/>
<rect x="495.8" y="523.6" width="1.6" height="4.6" fill="#231815" stroke="#231815" stroke-width="0.3"/>
<path d="M509 528.5 H493.4 V546.6 H509" fill="#f4f4f4" stroke="#231815" stroke-width="0.7" />
<path d="M497.8 530.1 L505.9 531.5 L505.1 544.2 L495.4 542.2 Z" fill="#f6f6f6" stroke="#231815" stroke-width="0.7" />
<rect x="476.4" y="539.3" width="12.6" height="19.3" fill="#f6f6f6" stroke="#6b625f" stroke-width="0.6"/>
<rect x="479.9" y="544.2" width="5.2" height="10.4" fill="#f9f9f9" stroke="#6b625f" stroke-width="0.6"/>
<rect x="493.4" y="559" width="4.8" height="4" fill="#f4f4f4" stroke="#231815" stroke-width="0.7"/>
<rect x="494.6" y="560" width="1.4" height="1.8" fill="none" stroke="#231815" stroke-width="0.4"/>
<rect x="496.4" y="560" width="1.2" height="1.8" fill="none" stroke="#231815" stroke-width="0.4"/>
<line x1="507.6" y1="523.3" x2="507.6" y2="563" stroke="#6b625f" stroke-width="0.5" />
<circle cx="506.2" cy="467.7" r="1.6" fill="#f7f7f7" stroke="#231815" stroke-width="0.85"/>
<circle cx="506.2" cy="513" r="1.6" fill="#f7f7f7" stroke="#231815" stroke-width="0.85"/>
<circle cx="604.5" cy="467.7" r="1.6" fill="#f7f7f7" stroke="#231815" stroke-width="0.85"/>
<circle cx="604.5" cy="513" r="1.6" fill="#f7f7f7" stroke="#231815" stroke-width="0.85"/>
<circle cx="670.3" cy="467.7" r="1.6" fill="#f7f7f7" stroke="#231815" stroke-width="0.85"/>
<circle cx="670.3" cy="513" r="1.6" fill="#f7f7f7" stroke="#231815" stroke-width="0.85"/>
<circle cx="506.2" cy="490.6" r="1.7" fill="#231815" stroke="#231815" stroke-width="0.4"/>
<circle cx="604.5" cy="490.6" r="1.7" fill="#231815" stroke="#231815" stroke-width="0.4"/>
<circle cx="670.2" cy="490.5" r="4.7" fill="none" stroke="#6b625f" stroke-width="0.6"/>
<circle cx="670.2" cy="490.5" r="2.7" fill="none" stroke="#6b625f" stroke-width="0.6"/>
<circle cx="670.2" cy="490.5" r="1.1" fill="none" stroke="#6b625f" stroke-width="0.5"/>
<line x1="433.3" y1="422.3" x2="433.3" y2="590.6" stroke="#231815" stroke-width="0.8" />
<line x1="506.2" y1="422.3" x2="506.2" y2="592.2" stroke="#231815" stroke-width="0.7" />
<line x1="604.5" y1="422.3" x2="604.5" y2="592.2" stroke="#231815" stroke-width="0.7" />
<line x1="670.3" y1="422.3" x2="670.3" y2="592.2" stroke="#231815" stroke-width="0.8" />
<line x1="714.6" y1="422.3" x2="714.6" y2="464.4" stroke="#231815" stroke-width="0.8" />
<line x1="433.3" y1="424" x2="714.6" y2="424" stroke="#231815" stroke-width="0.7" />
<path d="M433.3 424 L438.5 423.15 L438.5 424.85Z" fill="#231815"/>
<path d="M714.6 424 L709.4 423.15 L709.4 424.85Z" fill="#231815"/>
<path d="M506.2 424 L501 423.15 L501 424.85Z" fill="#231815"/>
<path d="M506.2 424 L511.4 423.15 L511.4 424.85Z" fill="#231815"/>
<path d="M604.5 424 L599.3 423.15 L599.3 424.85Z" fill="#231815"/>
<path d="M604.5 424 L609.7 423.15 L609.7 424.85Z" fill="#231815"/>
<path d="M670.3 424 L665.1 423.15 L665.1 424.85Z" fill="#231815"/>
<path d="M670.3 424 L675.5 423.15 L675.5 424.85Z" fill="#231815"/>
<line x1="433.3" y1="590.2" x2="670.3" y2="590.2" stroke="#231815" stroke-width="0.7" />
<path d="M433.3 590.2 L438.5 589.35 L438.5 591.05Z" fill="#231815"/>
<path d="M670.3 590.2 L665.1 589.35 L665.1 591.05Z" fill="#231815"/>
<path d="M506.2 590.2 L501 589.35 L501 591.05Z" fill="#231815"/>
<path d="M506.2 590.2 L511.4 589.35 L511.4 591.05Z" fill="#231815"/>
<path d="M604.5 590.2 L599.3 589.35 L599.3 591.05Z" fill="#231815"/>
<path d="M604.5 590.2 L609.7 589.35 L609.7 591.05Z" fill="#231815"/>
<text x="446.8" y="421" font-size="16.3" fill="#000" textLength="38.8" lengthAdjust="spacingAndGlyphs">110.7</text>
<text x="535.3" y="421" font-size="16.3" fill="#000" textLength="47.2" lengthAdjust="spacingAndGlyphs">M*150</text>
<text x="638.3" y="421" font-size="16.3" fill="#000" text-anchor="middle" >A</text>
<text x="676.8" y="421" font-size="16.3" fill="#000" textLength="31.6" lengthAdjust="spacingAndGlyphs">67.5</text>
<text x="451.2" y="585.4" font-size="16.3" fill="#000" textLength="38.8" lengthAdjust="spacingAndGlyphs">110.7</text>
<text x="518.3" y="585.4" font-size="16.3" fill="#000" textLength="68" lengthAdjust="spacingAndGlyphs">150±0.02</text>
<text x="639" y="585.4" font-size="16.3" fill="#000" text-anchor="middle" >P</text>
<text x="516.9" y="445.7" font-size="16.2" fill="#000" textLength="55.2" lengthAdjust="spacingAndGlyphs">N-Φ5.5</text>
<text class="cjk" x="572.4" y="447.2" font-size="15.8" fill="#000" font-weight="500">通</text>
<path d="M588.5 449 H517.3 L500.8 476.6" fill="none" stroke="#231815" stroke-width="0.6" />
<text x="523.6" y="544.7" font-size="16.2" fill="#000" textLength="57.6" lengthAdjust="spacingAndGlyphs">2-Φ5H7</text>
<path d="M581.6 533.3 H592" fill="none" stroke="#4a4443" stroke-width="1.4"/><path d="M586.8 533.3 V545.3 M583.5 538.2 L586.8 545.5 L590.4 538.2" fill="none" stroke="#000" stroke-width="0.9" stroke-linejoin="miter"/>
<text x="592.4" y="544.7" font-size="16.2" fill="#000" text-anchor="start" >6</text>
<path d="M601.6 546.2 H521.4 L501.4 479.6" fill="none" stroke="#231815" stroke-width="0.6" />
<text x="658.9" y="452.6" font-size="16.3" fill="#000" text-anchor="middle" >A</text>
<line x1="653.4" y1="456" x2="670.3" y2="456" stroke="#231815" stroke-width="0.7" />
<path d="M670.3 456 L664.3 455 L664.3 457Z" fill="#231815"/>
<text x="663.4" y="540.4" font-size="16.3" fill="#000" text-anchor="middle" >A</text>
<line x1="653.6" y1="526.3" x2="670.3" y2="526.3" stroke="#231815" stroke-width="0.7" />
<path d="M670.3 526.3 L664.3 525.3 L664.3 527.3Z" fill="#231815"/>
<text x="678.2" y="496.2" font-size="16.3" fill="#000" text-anchor="start" >B</text>
<line x1="714.6" y1="467.5" x2="737.2" y2="467.5" stroke="#231815" stroke-width="0.6" />
<line x1="714.6" y1="513.5" x2="737.2" y2="513.5" stroke="#231815" stroke-width="0.6" />
<line x1="733.2" y1="467.5" x2="733.2" y2="513.5" stroke="#231815" stroke-width="0.7" /><path d="M733.2 467.5 L732.35 472.7 L734.05 472.7Z" fill="#231815"/><path d="M733.2 513.5 L732.35 508.3 L734.05 508.3Z" fill="#231815"/>
<line x1="714.6" y1="464.3" x2="753.2" y2="464.3" stroke="#231815" stroke-width="0.6" />
<line x1="714.6" y1="516.5" x2="753.2" y2="516.5" stroke="#231815" stroke-width="0.6" />
<line x1="750.6" y1="464.3" x2="750.6" y2="516.5" stroke="#231815" stroke-width="0.7" /><path d="M750.6 464.3 L749.75 469.5 L751.45 469.5Z" fill="#231815"/><path d="M750.6 516.5 L749.75 511.3 L751.45 511.3Z" fill="#231815"/>
<text transform="translate(730.4,490.4) rotate(-90)" font-size="16.3" text-anchor="middle" fill="#000">69</text>
<text transform="translate(748.2,490.4) rotate(-90)" font-size="16.3" text-anchor="middle" fill="#000">80</text>
</g>
<g id="aa_view">
<line x1="884.3" y1="444.4" x2="884.3" y2="522.4" stroke="#231815" stroke-width="0.6" />
<path d="M909.9 464.6 H945.4 M909.9 466.6 H945.4" fill="none" stroke="#4a4443" stroke-width="0.6" />
<line x1="943.5" y1="446.5" x2="943.5" y2="475.6" stroke="#231815" stroke-width="0.7" />
<line x1="943.5" y1="446.5" x2="967.2" y2="446.5" stroke="#231815" stroke-width="0.7" />
<path d="M943.5 464.6 L942.75 460 L944.25 460Z" fill="#231815"/>
<path d="M943.5 466.6 L942.75 471.2 L944.25 471.2Z" fill="#231815"/>
<text x="944.8" y="444.4" font-size="16.3" fill="#000" textLength="22" lengthAdjust="spacingAndGlyphs">3.4</text>
<line x1="904.3" y1="484" x2="904.3" y2="500" stroke="#8c8584" stroke-width="0.6" />
<line x1="908.4" y1="484" x2="908.4" y2="500" stroke="#8c8584" stroke-width="0.6" />
<line x1="894.6" y1="498.2" x2="949.2" y2="498.2" stroke="#231815" stroke-width="0.7" />
<path d="M904.3 498.2 L899.7 497.45 L899.7 498.95Z" fill="#231815"/>
<path d="M908.4 498.2 L913 497.45 L913 498.95Z" fill="#231815"/>
<text x="911.8" y="496.3" font-size="16.3" fill="#000" textLength="36" lengthAdjust="spacingAndGlyphs">Φ5.5</text>
<line x1="859.5" y1="484" x2="859.5" y2="522.2" stroke="#231815" stroke-width="0.6" />
<line x1="909.6" y1="484" x2="909.6" y2="522.2" stroke="#4a4443" stroke-width="0.6" />
<line x1="783.8" y1="520" x2="909.8" y2="520" stroke="#231815" stroke-width="0.7" />
<path d="M859.5 520 L864.7 519.15 L864.7 520.85Z" fill="#231815"/>
<path d="M884.3 520 L879.1 519.15 L879.1 520.85Z" fill="#231815"/>
<path d="M884.3 520 L889.5 519.15 L889.5 520.85Z" fill="#231815"/>
<path d="M909.6 520 L904.4 519.15 L904.4 520.85Z" fill="#231815"/>
<text x="783.9" y="518.1" font-size="16.3" fill="#000" textLength="73.2" lengthAdjust="spacingAndGlyphs">39.7±0.02</text>
<text x="888.6" y="518.1" font-size="16.3" fill="#000" textLength="17.8" lengthAdjust="spacingAndGlyphs">40</text>
<text x="851.6" y="552" font-size="16.3" fill="#000" textLength="63" lengthAdjust="spacingAndGlyphs">A-A Viev</text>
<path d="M867.2 449.2 H901.7 V464.3 H909.9 V483.9 H858.7 V464.3 H867.2 Z" fill="#f2f2f2" stroke="#231815" stroke-width="1.3" />
<path d="M872.4 450.8 H896.6 L897.8 452.2 V459.6 L900.6 461 V474 Q900.6 478.2 896.4 478.2 H873 Q868.8 478.2 868.8 474 V461 L871.4 459.6 V452.2 Z" fill="#f7f7f7" stroke="#231815" stroke-width="0.8" />
<path d="M867.6 451.2 H871.2 M867.6 455.8 H870 V457.4 H867.6 M867.6 459.4 H870.8" fill="none" stroke="#231815" stroke-width="0.9" />
<path d="M901.3 451.2 H897.8 M901.3 455.8 H899 V457.4 H901.3 M901.3 459.4 H898.2" fill="none" stroke="#231815" stroke-width="0.9" />
<rect x="868.2" y="451.8" width="2" height="3.6" fill="#fff" stroke="#fff" stroke-width="0.3"/>
<rect x="898.8" y="451.8" width="2" height="3.6" fill="#fff" stroke="#fff" stroke-width="0.3"/>
<line x1="867.2" y1="449.3" x2="901.7" y2="449.3" stroke="#231815" stroke-width="2.0" />
<rect x="866.3" y="453.5" width="3.5" height="1.9" fill="#fff" stroke="none" stroke-width="0"/>
<path d="M867.1999999999999 453.5 H869.8 V455.4 H867.1999999999999" fill="none" stroke="#231815" stroke-width="0.8" />
<rect x="866.3" y="457.3" width="4.7" height="1.8" fill="#fff" stroke="none" stroke-width="0"/>
<path d="M867.1999999999999 457.3 H871.0 V459.1 H867.1999999999999" fill="none" stroke="#231815" stroke-width="0.8" />
<rect x="899" y="453.5" width="3.6" height="1.9" fill="#fff" stroke="none" stroke-width="0"/>
<path d="M901.7 453.5 H899.0 V455.4 H901.7" fill="none" stroke="#231815" stroke-width="0.8" />
<rect x="897.8" y="457.3" width="4.8" height="1.8" fill="#fff" stroke="none" stroke-width="0"/>
<path d="M901.7 457.3 H897.8 V459.1 H901.7" fill="none" stroke="#231815" stroke-width="0.8" />
<line x1="860.3" y1="464.6" x2="860.3" y2="483.6" stroke="#231815" stroke-width="0.7" />
<line x1="864.6" y1="464.6" x2="864.6" y2="483.6" stroke="#231815" stroke-width="0.8" />
<line x1="904.3" y1="464.6" x2="904.3" y2="483.6" stroke="#231815" stroke-width="0.8" />
<line x1="908.1" y1="464.6" x2="908.1" y2="483.6" stroke="#231815" stroke-width="0.7" />
<line x1="859" y1="465.8" x2="867" y2="465.8" stroke="#6b625f" stroke-width="0.5" />
<line x1="901.8" y1="465.8" x2="909.6" y2="465.8" stroke="#6b625f" stroke-width="0.5" />
<path d="M864.6 468 L869 474 M872.4 478.4 L876.6 482.6 M888.6 478.6 L893 482.6 M900.4 476 L904.3 479.6" fill="none" stroke="#6b625f" stroke-width="0.5" />
<line x1="864.6" y1="482.6" x2="904.3" y2="482.6" stroke="#6b625f" stroke-width="0.5" />
<rect x="882.5" y="480.6" width="3.6" height="3.3" fill="#f7f7f7" stroke="#231815" stroke-width="0.6"/>
<line x1="858.7" y1="483.9" x2="909.9" y2="483.9" stroke="#231815" stroke-width="1.6" />
<line x1="884.3" y1="444.4" x2="884.3" y2="522.4" stroke="#231815" stroke-width="0.6" />
</g>
<g id="b_view">
<circle cx="284.7" cy="518.3" r="22.8" fill="#f6f6f6" stroke="#231815" stroke-width="0.8"/>
<rect x="270" y="508" width="28.7" height="21" rx="10.5" fill="none" stroke="#231815" stroke-width="0.8"/>
<line x1="279.9" y1="500.4" x2="279.9" y2="537.4" stroke="#231815" stroke-width="0.7" />
<line x1="287.8" y1="500.4" x2="287.8" y2="537.4" stroke="#231815" stroke-width="0.7" />
<line x1="268" y1="518.5" x2="302.6" y2="518.5" stroke="#231815" stroke-width="0.7" />
<line x1="270" y1="477.4" x2="270" y2="518.5" stroke="#231815" stroke-width="0.6" />
<line x1="298.7" y1="477.4" x2="298.7" y2="513.5" stroke="#8c8584" stroke-width="0.6" />
<line x1="270" y1="479.3" x2="298.7" y2="479.3" stroke="#231815" stroke-width="0.7" /><path d="M270 479.3 L275.2 478.45 L275.2 480.15Z" fill="#231815"/><path d="M298.7 479.3 L293.5 478.45 L293.5 480.15Z" fill="#231815"/>
<text x="284.8" y="476.6" font-size="16.3" fill="#000" text-anchor="middle" >7</text>
<line x1="242.9" y1="508.2" x2="281" y2="508.2" stroke="#231815" stroke-width="0.6" />
<line x1="242.9" y1="529.4" x2="281" y2="529.4" stroke="#8c8584" stroke-width="0.6" />
<line x1="244.7" y1="508.2" x2="244.7" y2="551.8" stroke="#231815" stroke-width="0.7" />
<path d="M244.7 508.2 L243.85 513.4 L245.55 513.4Z" fill="#231815"/>
<path d="M244.7 529.4 L243.85 524.2 L245.55 524.2Z" fill="#231815"/>
<line x1="205.7" y1="551.8" x2="244.7" y2="551.8" stroke="#231815" stroke-width="0.7" />
<text x="193.9" y="535" font-size="16.3" fill="#000" textLength="49.2" lengthAdjust="spacingAndGlyphs">+0.012</text>
<text x="186" y="545.8" font-size="16.3" fill="#000" text-anchor="start" >5</text>
<text x="203.6" y="548.6" font-size="16.3" fill="#000" text-anchor="start" >0</text>
<text x="261.2" y="581.4" font-size="16.3" fill="#000" textLength="47.4" lengthAdjust="spacingAndGlyphs">B Viev</text>
</g>
<g id="end_view">
<line x1="858.4" y1="280.2" x2="858.4" y2="333" stroke="#231815" stroke-width="0.7" />
<line x1="962.1" y1="280.2" x2="962.1" y2="374" stroke="#4a4443" stroke-width="0.7" />
<line x1="858.4" y1="282.8" x2="962.1" y2="282.8" stroke="#231815" stroke-width="0.7" /><path d="M858.4 282.8 L863.6 281.95 L863.6 283.65Z" fill="#231815"/><path d="M962.1 282.8 L956.9 281.95 L956.9 283.65Z" fill="#231815"/>
<text x="900" y="279.8" font-size="16.3" fill="#000" textLength="25.6" lengthAdjust="spacingAndGlyphs">158</text>
<line x1="909.4" y1="302.4" x2="909.4" y2="333" stroke="#231815" stroke-width="0.7" />
<line x1="858.4" y1="304.9" x2="909.4" y2="304.9" stroke="#231815" stroke-width="0.7" /><path d="M858.4 304.9 L863.6 304.05 L863.6 305.75Z" fill="#231815"/><path d="M909.4 304.9 L904.2 304.05 L904.2 305.75Z" fill="#231815"/>
<text x="877.3" y="302.2" font-size="16.3" fill="#000" textLength="17.3" lengthAdjust="spacingAndGlyphs">78</text>
<line x1="862.9" y1="320.4" x2="862.9" y2="335" stroke="#231815" stroke-width="0.6" />
<line x1="904.5" y1="320.4" x2="904.5" y2="335" stroke="#231815" stroke-width="0.6" />
<line x1="862.9" y1="322.7" x2="904.5" y2="322.7" stroke="#231815" stroke-width="0.7" /><path d="M862.9 322.7 L868.1 321.85 L868.1 323.55Z" fill="#231815"/><path d="M904.5 322.7 L899.3 321.85 L899.3 323.55Z" fill="#231815"/>
<text x="877.3" y="319.2" font-size="16.3" fill="#000" textLength="17.3" lengthAdjust="spacingAndGlyphs">62</text>
<line x1="834.6" y1="332.8" x2="858" y2="332.8" stroke="#231815" stroke-width="0.6" />
<line x1="834.6" y1="376.8" x2="858" y2="376.8" stroke="#231815" stroke-width="0.6" />
<line x1="837" y1="332.8" x2="837" y2="376.8" stroke="#231815" stroke-width="0.7" /><path d="M837 332.8 L836.15 338 L837.85 338Z" fill="#231815"/><path d="M837 376.8 L836.15 371.6 L837.85 371.6Z" fill="#231815"/>
<text transform="translate(834.9,354.6) rotate(-90)" font-size="16.3" text-anchor="middle" fill="#000">68</text>
<line x1="958" y1="333.2" x2="962.1" y2="333.2" stroke="#4a4443" stroke-width="0.6" />
<line x1="955" y1="374" x2="962.1" y2="374" stroke="#4a4443" stroke-width="0.6" />
<path d="M858 373.8 H820.8 V411.4 H926.8" fill="none" stroke="#9fa0a0" stroke-width="0.9" />
<path d="M858.2 375.4 L853.7 374.65 L853.7 376.15Z" fill="#231815"/>
<line x1="850" y1="375.4" x2="858" y2="375.4" stroke="#231815" stroke-width="0.6" />
<text class="cjksc" x="821.8" y="394.5" font-size="16.3" fill="#000" textLength="49" lengthAdjust="spacingAndGlyphs">基准面</text>
<text x="823.8" y="406.9" font-size="13.7" fill="#b4b4b5" textLength="102.6" lengthAdjust="spacingAndGlyphs">The datum plane</text>
<path d="M855.3 342.2 H865 V354.4 H855.3 Z" fill="#f3f3f3" stroke="#231815" stroke-width="0.9" />
<line x1="855.3" y1="350.2" x2="865" y2="350.2" stroke="#231815" stroke-width="0.8" />
<rect x="857.6" y="343.6" width="2.6" height="4.2" fill="none" stroke="#231815" stroke-width="0.6"/>
<line x1="862.4" y1="342.2" x2="862.4" y2="350" stroke="#6b625f" stroke-width="0.5" />
<path d="M866.5 341 V355.6 Q866.5 356.5 865.4 356.5 H860 Q857.9 356.5 857.9 358.6 V376.9 H910.5 V358.6 Q910.5 356.5 908.4 356.5 H905.6 Q904.5 356.5 904.5 355.4 V341 Z" fill="#f4f4f4" stroke="#231815" stroke-width="1.4" />
<line x1="901.6" y1="341.5" x2="901.6" y2="355.4" stroke="#231815" stroke-width="0.8" />
<line x1="857.9" y1="376.9" x2="910.5" y2="376.9" stroke="#231815" stroke-width="1.8" />
<circle cx="861.9" cy="361.6" r="2.9" fill="#4a413d" stroke="#231815" stroke-width="0.7"/>
<circle cx="861.9" cy="361.6" r="1.5" fill="none" stroke="#d0cbca" stroke-width="0.5"/>
<path d="M860.6999999999999 360.40000000000003 L863.1 362.8 M863.1 360.40000000000003 L860.6999999999999 362.8" fill="none" stroke="#d0cbca" stroke-width="0.4" />
<circle cx="861.9" cy="372" r="2.9" fill="#4a413d" stroke="#231815" stroke-width="0.7"/>
<circle cx="861.9" cy="372" r="1.5" fill="none" stroke="#d0cbca" stroke-width="0.5"/>
<path d="M860.6999999999999 370.8 L863.1 373.2 M863.1 370.8 L860.6999999999999 373.2" fill="none" stroke="#d0cbca" stroke-width="0.4" />
<circle cx="906.2" cy="361.6" r="2.9" fill="#4a413d" stroke="#231815" stroke-width="0.7"/>
<circle cx="906.2" cy="361.6" r="1.5" fill="none" stroke="#d0cbca" stroke-width="0.5"/>
<path d="M905.0 360.40000000000003 L907.4000000000001 362.8 M907.4000000000001 360.40000000000003 L905.0 362.8" fill="none" stroke="#d0cbca" stroke-width="0.4" />
<circle cx="906.2" cy="372" r="2.9" fill="#4a413d" stroke="#231815" stroke-width="0.7"/>
<circle cx="906.2" cy="372" r="1.5" fill="none" stroke="#d0cbca" stroke-width="0.5"/>
<path d="M905.0 370.8 L907.4000000000001 373.2 M907.4000000000001 370.8 L905.0 373.2" fill="none" stroke="#d0cbca" stroke-width="0.4" />
<path d="M879.4 365.8 V359.2 H883.8 V362.6 H881.4 V365.8 Z M885.6 365.8 V360.8 H887.8 V365.8 Z" fill="#fdfdfd" stroke="#7d7573" stroke-width="0.8" />
<circle cx="886.6" cy="359.5" r="0.7" fill="#3e3431" stroke="#231815" stroke-width="0.2"/>
<path d="M857.8 339 V335 Q857.8 332.6 860.2 332.6 H908.1 Q910.5 332.6 910.5 335 V339 Q910.5 341.2 908.3 341.2 H860 Q857.8 341.2 857.8 339 Z" fill="#f1f1f1" stroke="#231815" stroke-width="1.1" />
<line x1="859.6" y1="333.2" x2="908.7" y2="333.2" stroke="#231815" stroke-width="2.0" />
<line x1="863" y1="334" x2="863" y2="341" stroke="#6b625f" stroke-width="0.6" />
<line x1="904.6" y1="334" x2="904.6" y2="341" stroke="#6b625f" stroke-width="0.6" />
<line x1="863" y1="335.6" x2="904.6" y2="335.6" stroke="#6b625f" stroke-width="0.5" />
<path d="M868.2 343.4 L869.8 341.6 H883.6 M890 341.6 H899.2 L900.6 343.4" fill="none" stroke="#231815" stroke-width="1.4" />
<line x1="870" y1="343.6" x2="899" y2="343.6" stroke="#6b625f" stroke-width="0.5" />
<rect x="916.5" y="333.5" width="41.6" height="41.5" rx="5.2" fill="#f4f4f4" stroke="#231815" stroke-width="1.3"/>
<path d="M925.8 335.2 H949 L956.4 342.4 V366.2 L949 373.4 H925.8 L918.3 366.2 V342.4 Z" fill="none" stroke="#8c8584" stroke-width="0.6" />
<circle cx="921.3" cy="337.9" r="2.2" fill="#fafafa" stroke="#6b625f" stroke-width="0.6"/>
<circle cx="953.4" cy="337.9" r="2.2" fill="#fafafa" stroke="#6b625f" stroke-width="0.6"/>
<circle cx="921.3" cy="370.4" r="2.2" fill="#fafafa" stroke="#6b625f" stroke-width="0.6"/>
<circle cx="953.4" cy="370.4" r="2.2" fill="#fafafa" stroke="#6b625f" stroke-width="0.6"/>
<circle cx="926.6" cy="336.3" r="1.5" fill="#fff" stroke="#231815" stroke-width="0.7"/>
<circle cx="948" cy="336.3" r="1.5" fill="#fff" stroke="#231815" stroke-width="0.7"/>
<circle cx="919.2" cy="364.6" r="1.5" fill="#fff" stroke="#231815" stroke-width="0.7"/>
<circle cx="955.4" cy="343.6" r="1.5" fill="#fff" stroke="#231815" stroke-width="0.7"/>
<circle cx="927.6" cy="372.4" r="1.5" fill="#fff" stroke="#231815" stroke-width="0.7"/>
<circle cx="947" cy="371.6" r="1.5" fill="#fff" stroke="#231815" stroke-width="0.7"/>
<circle cx="919.4" cy="342.6" r="1.5" fill="#fff" stroke="#231815" stroke-width="0.7"/>
<circle cx="955.3" cy="365.4" r="1.5" fill="#fff" stroke="#231815" stroke-width="0.7"/>
<path d="M923.5 375 V379.6 H949 V375" fill="#f6f6f6" stroke="#231815" stroke-width="0.7" />
<line x1="937.8" y1="375" x2="937.8" y2="379.6" stroke="#231815" stroke-width="0.6" />
<line x1="925" y1="375" x2="925" y2="379.6" stroke="#6b625f" stroke-width="0.4" />
<line x1="947.6" y1="375" x2="947.6" y2="379.6" stroke="#6b625f" stroke-width="0.4" />
</g>
</svg>
<table class="spec"><thead><tr><th class="first"><svg class="zh" width="58.4" height="15" viewBox="0 -12.6 58.4 15"><text x="0" y="0" font-size="14.6" font-weight="500" fill="#fff" textLength="58.4" lengthAdjust="spacingAndGlyphs" style="font-family:'Liberation Sans','Noto Sans CJK TC',sans-serif;">有效行程</text></svg><span>Stroke</span></th><th>50</th><th>100</th><th>150</th><th>200</th><th>250</th><th>300</th><th>350</th><th>400</th><th>450</th><th>500</th><th>550</th><th>600</th><th>650</th><th>700</th><th>750</th><th>800</th><th>850</th><th>900</th><th>950</th><th>1000</th><th>1050</th></tr></thead><tbody><tr><td class="first">L</td><td>278</td><td>328</td><td>378</td><td>428</td><td>4782</td><td>528</td><td>578</td><td>628</td><td>678</td><td>728</td><td>778</td><td>828</td><td>878</td><td>928</td><td>978</td><td>1028</td><td>1078</td><td>1128</td><td>1178</td><td>1228</td><td>1278</td></tr><tr><td class="first">A</td><td>100</td><td>150</td><td>50</td><td>100</td><td>150</td><td>50</td><td>100</td><td>150</td><td>50</td><td>100</td><td>150</td><td>50</td><td>100</td><td>150</td><td>50</td><td>100</td><td>150</td><td>50</td><td>100</td><td>150</td><td>50</td></tr><tr><td class="first">M</td><td>0</td><td>0</td><td>1</td><td>1</td><td>1</td><td>2</td><td>2</td><td>2</td><td>3</td><td>3</td><td>3</td><td>4</td><td>4</td><td>4</td><td>5</td><td>5</td><td>5</td><td>6</td><td>6</td><td>6</td><td>7</td></tr><tr><td class="first">N</td><td>4</td><td>4</td><td>6</td><td>6</td><td>6</td><td>8</td><td>8</td><td>8</td><td>10</td><td>10</td><td>10</td><td>12</td><td>12</td><td>12</td><td>14</td><td>14</td><td>14</td><td>16</td><td>16</td><td>16</td><td>18</td></tr><tr><td class="first">P</td><td>0</td><td>0</td><td>50</td><td>100</td><td>150</td><td>200</td><td>250</td><td>300</td><td>350</td><td>400</td><td>450</td><td>500</td><td>550</td><td>600</td><td>650</td><td>700</td><td>750</td><td>800</td><td>850</td><td>900</td><td>950</td></tr><tr><td class="first">KG</td><td>2.8</td><td>3</td><td>3.3</td><td>3.5</td><td>4</td><td>4.1</td><td>4.3</td><td>4.6</td><td>4.8</td><td>5.1</td><td>5.4</td><td>5.6</td><td>5.9</td><td>6.1</td><td>6.4</td><td>6.7</td><td>6.9</td><td>7.2</td><td>7.4</td><td>8</td><td>8</td></tr></tbody></table>
</body></html>
